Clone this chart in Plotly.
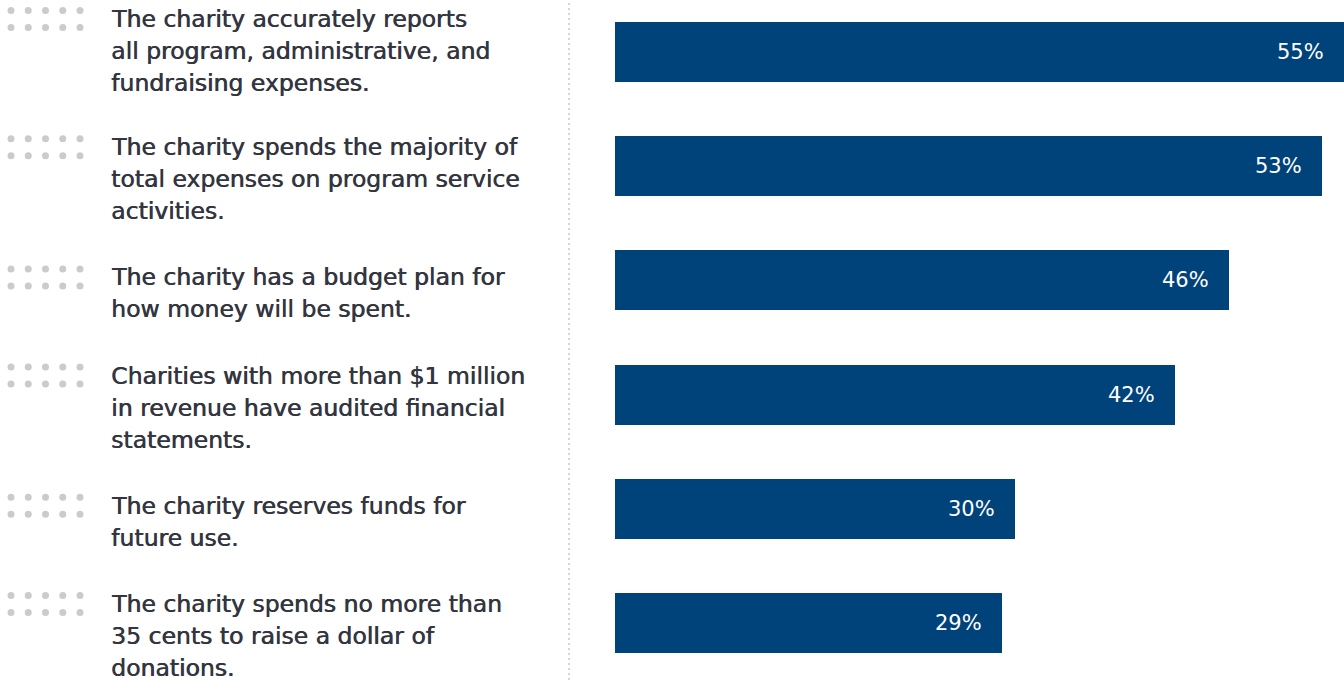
import plotly.graph_objects as go

# ---------------- data ----------------
statements = [
    "The charity accurately reports<br>all program, administrative, and<br>fundraising expenses.",
    "The charity spends the majority of<br>total expenses on program service<br>activities.",
    "The charity has a budget plan for<br>how money will be spent.",
    "Charities with more than $1 million<br>in revenue have audited financial<br>statements.",
    "The charity reserves funds for<br>future use.",
    "The charity spends no more than<br>35 cents to raise a dollar of<br>donations.",
]
percent = [55, 53, 46, 42, 30, 29]

# ---------------- style ----------------
W, H = 1344, 680
BAR_COLOR = "#00437a"
TEXT_COLOR = "#33353f"
DOT_COLOR = "#cbcbcb"
DIVIDER_COLOR = "#d6d6d6"
FONT = "DejaVu Sans"
TEXT_SIZE = 23.5
LABEL_SIZE = 21
LINE_H = 32
X_MAX = 54.65
Y_RANGE = [5.499, -0.455]
TEXT_LEFT_PX = 109
BLOCK_SHIFT = -13      # text block centre relative to bar centre (px, up positive)
FIRST_BLOCK_SHIFT = 1  # first block pushed up to stay inside the top edge
LABEL_PAD = 18

n = len(statements)
ypos = list(range(n))

fig = go.Figure()
fig.add_trace(go.Bar(
    x=percent, y=ypos, orientation="h",
    marker=dict(color=BAR_COLOR, line=dict(width=0)),
    width=0.525, hoverinfo="skip",
))

annotations = []
shapes = []

# value labels inside bar ends
for v, y in zip(percent, ypos):
    annotations.append(dict(
        x=min(v, X_MAX), y=y, xref="x", yref="y",
        text=f"{v}%", showarrow=False, xanchor="right", yanchor="middle",
        xshift=-LABEL_PAD,
        font=dict(family=FONT, size=LABEL_SIZE, color="white"),
    ))

# statements with dot icons
for i, (txt, y) in enumerate(zip(statements, ypos)):
    lines = txt.split("<br>")
    nl = len(lines)
    center = FIRST_BLOCK_SHIFT if i == 0 else BLOCK_SHIFT
    first_line = center + (nl - 1) / 2 * LINE_H
    for k, line in enumerate(lines):
        annotations.append(dict(
            x=TEXT_LEFT_PX / W, y=y, xref="paper", yref="y",
            text=line, showarrow=False, xanchor="left", yanchor="middle",
            yshift=first_line - k * LINE_H,
            font=dict(family=FONT, size=TEXT_SIZE, color=TEXT_COLOR,
                      shadow=f"0.6px 0px 0px {TEXT_COLOR}"),
        ))
    for row in (8.5, -8.5):
        for c in range(5):
            cx = 11 + c * 17.25
            cy = first_line + row
            shapes.append(dict(
                type="circle", xref="paper", yref="y",
                xsizemode="pixel", ysizemode="pixel",
                xanchor=0, yanchor=y,
                x0=cx - 3.5, x1=cx + 3.5, y0=cy - 3.5, y1=cy + 3.5,
                fillcolor=DOT_COLOR, line=dict(width=0),
            ))

# dotted divider
shapes.append(dict(
    type="line", xref="paper", yref="paper",
    x0=569 / W, x1=569 / W, y0=0, y1=1,
    line=dict(color=DIVIDER_COLOR, width=2, dash="2px,3px"),
))

fig.update_layout(
    width=W, height=H,
    margin=dict(l=0, r=0, t=0, b=0),
    paper_bgcolor="white", plot_bgcolor="white",
    showlegend=False,
    xaxis=dict(domain=[615 / W, 1], range=[0, X_MAX], visible=False, fixedrange=True),
    yaxis=dict(range=Y_RANGE, visible=False, fixedrange=True),
    annotations=annotations,
    shapes=shapes,
    bargap=0,
)

fig.write_html(
    "out.html",
    config={"displayModeBar": False},
    post_script="document.body.style.margin='0px';document.body.style.overflow='hidden';",
)
